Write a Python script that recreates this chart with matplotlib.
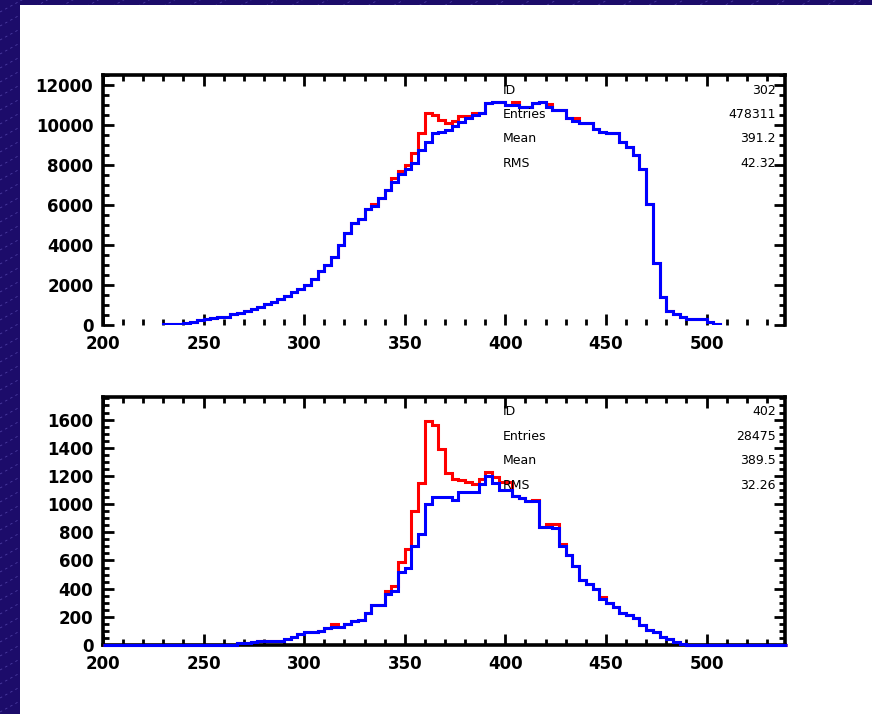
import numpy as np
import matplotlib
matplotlib.use('Agg')
import matplotlib.pyplot as plt
from matplotlib.ticker import MultipleLocator
from matplotlib.lines import Line2D
from matplotlib.patches import Rectangle

# ------------------ Data ------------------
bin_lo = 200.0
bin_w = 10.0 / 3.0

# top histogram: bins 230 .. 506.7
top_first_bin = 9
top_blue = [60, 60, 60,
            110, 150, 250, 300, 350, 400, 420, 550, 620,
            700, 800, 900, 1050, 1150, 1300, 1450, 1650, 1800,
            2000, 2300, 2700, 3000, 3400, 4000, 4600, 5100, 5300,
            5800, 5950, 6350, 6750, 7150, 7550, 7800, 8100, 8750,
            9150, 9600, 9650, 9750, 9950, 10170, 10330, 10500, 10580,
            11080, 11170, 11170, 11000, 11000, 10880, 10880, 11080, 11170,
            10920, 10750, 10750, 10330, 10220, 10080, 10080, 9780, 9670,
            9580, 9580, 9170, 8880, 8500, 7800, 6030, 3120, 1420,
            700, 530, 420, 300, 300, 300, 170, 50]
top_red = [60, 60, 60,
           110, 150, 250, 300, 350, 400, 420, 550, 620,
           700, 800, 900, 1050, 1150, 1300, 1450, 1650, 1800,
           2000, 2300, 2700, 3000, 3400, 4000, 4600, 5100, 5300,
           5800, 6050, 6350, 6750, 7350, 7700, 8000, 8600, 9600,
           10600, 10500, 10250, 10100, 10200, 10450, 10450, 10580, 10580,
           11080, 11170, 11170, 11000, 11170, 10880, 10880, 11080, 11170,
           11030, 10750, 10750, 10330, 10330, 10080, 10080, 9780, 9670,
           9580, 9580, 9170, 8880, 8500, 7800, 6030, 3120, 1420,
           700, 530, 420, 300, 300, 300, 170, 50]

# bottom histogram: bins 200 .. 540
bot_blue = [0] * 20 + [
    15, 15, 20, 25, 30, 30, 25, 40, 60, 80,
    90, 95, 100, 120, 130, 130, 150, 170, 175,
    230, 285, 285, 360, 380, 515, 550, 705, 785,
    1000, 1050, 1050, 1050, 1030, 1085, 1085, 1085, 1140,
    1200, 1150, 1100, 1100, 1055, 1040, 1020, 1020, 840,
    840, 830, 700, 640, 560, 460, 430, 400, 330,
    300, 270, 230, 215, 195, 140, 110, 90, 60,
    40, 20, 5] + [0] * 15
bot_red = [0] * 20 + [
    15, 15, 20, 25, 30, 30, 25, 40, 60, 80,
    90, 95, 100, 120, 150, 130, 150, 170, 175,
    230, 285, 285, 380, 420, 590, 680, 950, 1150,
    1590, 1560, 1390, 1220, 1180, 1170, 1160, 1145, 1180,
    1225, 1190, 1160, 1160, 1055, 1040, 1020, 1030, 840,
    860, 860, 720, 640, 560, 460, 430, 400, 340,
    300, 270, 230, 215, 195, 140, 110, 90, 60,
    40, 20, 5] + [0] * 15

top_stats = [("ID", "302"), ("Entries", "478311"), ("Mean", "391.2"), ("RMS", "42.32")]
bot_stats = [("ID", "402"), ("Entries", "28475"), ("Mean", "389.5"), ("RMS", "32.26")]

W, H = 872, 714

# ------------------ Figure / background ------------------
fig = plt.figure(figsize=(W / 100, H / 100), dpi=100)
fig.patch.set_facecolor("#1c0c6a")

for c in np.arange(-600, 900, 14):
    fig.add_artist(Line2D([0, 1], [(c) / H, (c + 0.55 * W) / H],
                          transform=fig.transFigure, color="#5f50b8",
                          lw=0.6, ls=(0, (3, 4)), alpha=0.7, zorder=-3))
fig.add_artist(Rectangle((20 / W, 0), 1, 1 - 5 / H, transform=fig.transFigure,
                         facecolor="white", edgecolor="none", zorder=-2))


def make_axes(top_px, bot_px):
    return fig.add_axes([103 / W, 1 - bot_px / H, (785 - 103) / W, (bot_px - top_px) / H])


def style(ax, ymax, ymaj, ymin):
    ax.set_xlim(200, 539)
    ax.set_ylim(0, ymax)
    ax.xaxis.set_major_locator(MultipleLocator(50))
    ax.xaxis.set_minor_locator(MultipleLocator(10))
    ax.yaxis.set_major_locator(MultipleLocator(ymaj))
    ax.yaxis.set_minor_locator(MultipleLocator(ymin))
    ax.tick_params(which="both", direction="in", top=True, right=True,
                   width=2, colors="black")
    ax.tick_params(which="major", length=8)
    ax.tick_params(which="minor", length=4)
    ax.tick_params(axis="x", pad=7.3)
    ax.tick_params(axis="y", pad=7)
    for lab in ax.get_xticklabels() + ax.get_yticklabels():
        lab.set_fontweight("bold")
        lab.set_fontsize(12)
    for sp in ax.spines.values():
        sp.set_linewidth(2.6)


def stats(rows, y0):
    for i, (k, v) in enumerate(rows):
        y = 1 - (y0 + i * 24.5) / H
        fig.text(503 / W, y, k, fontsize=9, va="center", ha="left")
        fig.text(776 / W, y, v, fontsize=9, va="center", ha="right")


edges_all = bin_lo + bin_w * np.arange(len(bot_blue) + 1)
edges_top = bin_lo + bin_w * np.arange(top_first_bin, top_first_bin + len(top_blue) + 1)

# ------------------ Top panel ------------------
ax1 = make_axes(75, 325)
ax1.stairs(top_red, edges_top, color="red", lw=2.2, zorder=3)
ax1.stairs(top_blue, edges_top, color="blue", lw=2.2, zorder=4)
style(ax1, 12500, 2000, 500)
ax1.spines["bottom"].set_visible(False)
stats(top_stats, 90)

# ------------------ Bottom panel ------------------
ax2 = make_axes(397, 645)
ax2.stairs(bot_red, edges_all, color="red", lw=2.2, zorder=3, clip_on=False)
ax2.stairs(bot_blue, edges_all, color="blue", lw=2.2, zorder=4, clip_on=False)
style(ax2, 1760, 200, 50)
stats(bot_stats, 412)

fig.savefig("out.png", dpi=100, facecolor=fig.get_facecolor())
